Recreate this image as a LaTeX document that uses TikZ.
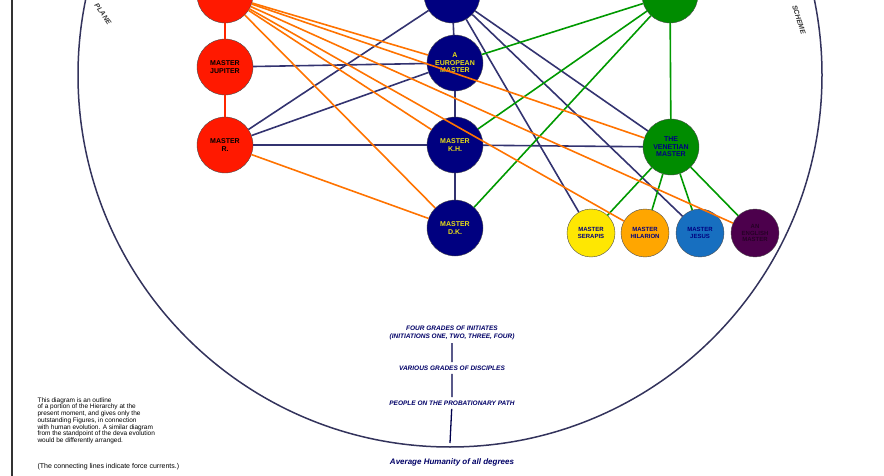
\documentclass[tikz,border=0pt]{standalone}
\usepackage{fontspec}
\setmainfont{Liberation Sans}
\begin{document}
\tikzset{
  every node/.style={font=\bfseries\fontsize{7}{7.5}\selectfont, align=center},
  master/.style={circle, draw=black!70, minimum size=56pt, inner sep=0pt, text=yellow!90!black},
  minor/.style={circle, draw=black!70, minimum size=48pt, inner sep=0pt, text=blue!50!black, font=\bfseries\fontsize{6}{6.5}\selectfont},
  red line/.style={draw=red!70!orange, line width=1.2pt},
  orange line/.style={draw=orange!90!red, line width=1.6pt},
  dark line/.style={draw=blue!30!black!80, line width=1.6pt},
  green line/.style={draw=green!60!black, line width=1.6pt},
  note/.style={font=\bfseries\itshape\fontsize{6.5}{7.5}\selectfont, text=blue!40!black}
}
\begin{tikzpicture}[x=1pt, y=-1pt]
    \useasboundingbox (0,0) rectangle (884,476);
    \draw[black!80, line width=1.6pt] (12,0) -- (12,476);
    \draw[blue!20!black!80, line width=1.5pt] (450,75) circle [radius=372];
    % Place nodes
    \node[master, fill=red!80!orange, text=black] (ray1) at (225,-5) {};
    \node[master, fill=red!80!orange, text=black] (jupiter) at (225,67) {MASTER\\ JUPITER};
    \node[master, fill=red!80!orange, text=black] (masterr) at (225,145) {MASTER\\ R.};
    \node[master, fill=blue!50!black] (ray2) at (452,-5) {};
    \node[master, fill=blue!50!black] (european) at (455,63) {A\\ EUROPEAN\\ MASTER};
    \node[master, fill=blue!50!black] (kh) at (455,145) {MASTER\\ K.H.};
    \node[master, fill=blue!50!black] (dk) at (455,228) {MASTER\\ D.K.};
    \node[master, fill=green!55!black] (ray3) at (670,-5) {};
    \node[master, fill=green!55!black, text=blue!50!black] (venetian) at (671,147) {THE\\ VENETIAN\\ MASTER};
    \node[minor, fill=yellow!90!orange] (serapis) at (591,233) {MASTER\\ SERAPIS};
    \node[minor, fill=orange!70!yellow] (hilarion) at (645,233) {MASTER\\ HILARION};
    \node[minor, fill=cyan!50!blue] (jesus) at (700,233) {MASTER\\ JESUS};
    \node[minor, fill=violet!60!black, text=violet!30!black] (english) at (755,233) {AN\\ ENGLISH\\ MASTER};
    % Draw edges
    \path[red line] (ray1) -- (jupiter) -- (masterr);
    \path[dark line] (ray2) -- (european) -- (kh) -- (dk);
    \path[green line] (ray3) -- (venetian);
    \path[dark line] (jupiter) -- (european);
    \path[dark line] (masterr) -- (kh);
    \path[dark line] (kh) -- (venetian);
    \path[dark line] (masterr) -- (ray2);
    \path[dark line] (masterr) -- (european);
    \path[dark line] (ray2) -- (venetian);
    \path[dark line] (ray2) -- (serapis);
    \path[dark line] (ray2) -- (jesus);
    \foreach \t in {european, kh, dk}
      \path[green line] (ray3) -- (\t);
    \foreach \t in {serapis, hilarion, jesus, english}
      \path[green line] (venetian) -- (\t);
    \foreach \t in {european, kh, dk, venetian, hilarion, english}
      \path[orange line] (ray1) -- (\t);
    \path[orange line] (masterr) -- (dk);
    % Texts
    \node[font=\bfseries\itshape\fontsize{7}{7}\selectfont, rotate=-55, text=black!80] (plane) at (103,14) {PLANE};
    \node[font=\bfseries\itshape\fontsize{7}{7}\selectfont, rotate=-72, text=black!80] (scheme) at (799,20) {SCHEME};
    \node[note] (initiates) at (452,333) {FOUR GRADES OF INITIATES\\ (INITIATIONS ONE, TWO, THREE, FOUR)};
    \node[note] (disciples) at (452,368) {VARIOUS GRADES OF DISCIPLES};
    \node[note] (probation) at (452,403) {PEOPLE ON THE PROBATIONARY PATH};
    \node[note, font=\bfseries\itshape\fontsize{8}{8}\selectfont] (average) at (452,462) {Average Humanity of all degrees};
    \path[draw=blue!30!black, line width=1.3pt] (initiates) -- (disciples) -- (probation) -- (450,443);
    \node[font=\fontsize{6.5}{6.7}\selectfont, align=left, anchor=north west] (caption) at (34,394)
      {This diagram is an outline\\ of a portion of the Hierarchy at the\\ present moment, and gives only the\\
       outstanding Figures, in connection\\ with human evolution. A similar diagram\\ from the standpoint of the deva evolution\\
       would be differently arranged.};
    \node[font=\fontsize{7}{7}\selectfont, anchor=west] (currents) at (34,467) {(The connecting lines indicate force currents.)};
\end{tikzpicture}
\end{document}
